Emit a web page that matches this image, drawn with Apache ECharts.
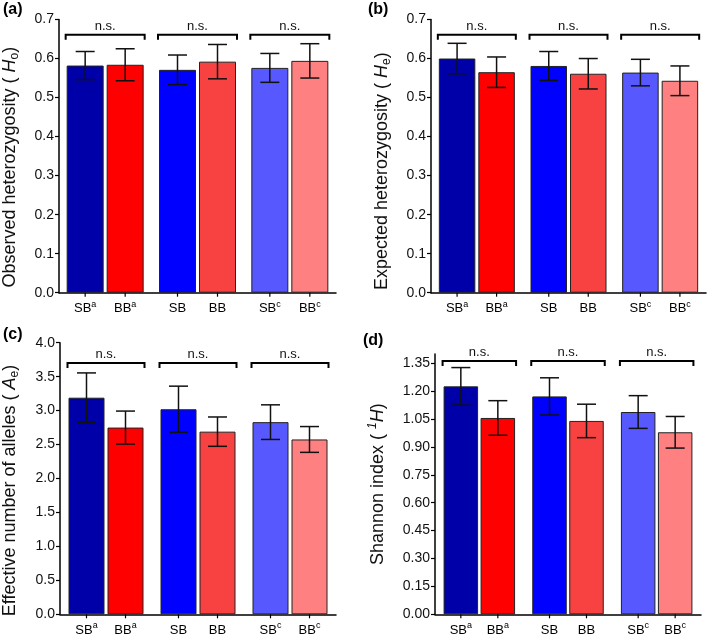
<!DOCTYPE html>
<html>
<head>
<meta charset="utf-8">
<script src="https://cdn.jsdelivr.net/npm/echarts@6/dist/echarts.min.js"></script>
<style>html,body{margin:0;padding:0;background:#fff;}#c{width:709px;height:640px;}</style>
</head>
<body>
<div id="c"></div>
<script>
// ---------- data ----------
const groups = ['g1', 'g2', 'g3'];
const sbLabels = [['SB', 'a'], ['SB', ''], ['SB', 'c']];
const bbLabels = [['BB', 'a'], ['BB', ''], ['BB', 'c']];
const sbColors = ['#0000a8', '#0000ff', '#5858ff'];
const bbColors = ['#ff0000', '#f84242', '#ff8080'];
const sigText = 'n.s.';

// (a) observed heterozygosity
const hoSB = [0.582, 0.571, 0.576];
const hoSBerr = [0.036, 0.038, 0.037];
const hoBB = [0.584, 0.592, 0.594];
const hoBBerr = [0.041, 0.044, 0.044];
const hoBracket = 0.661;
const hoTicks = [0, 0.1, 0.2, 0.3, 0.4, 0.5, 0.6, 0.7];

// (b) expected heterozygosity
const heSB = [0.600, 0.581, 0.564];
const heSBerr = [0.039, 0.037, 0.034];
const heBB = [0.565, 0.561, 0.543];
const heBBerr = [0.039, 0.039, 0.038];
const heBracket = 0.661;
const heTicks = [0, 0.1, 0.2, 0.3, 0.4, 0.5, 0.6, 0.7];

// (c) effective number of alleles
const aeSB = [3.19, 3.02, 2.83];
const aeSBerr = [0.365, 0.34, 0.255];
const aeBB = [2.75, 2.69, 2.575];
const aeBBerr = [0.243, 0.216, 0.19];
const aeBracket = 3.70;
const aeTicks = [0, 0.5, 1.0, 1.5, 2.0, 2.5, 3.0, 3.5, 4.0];

// (d) Shannon index
const shSB = [1.226, 1.172, 1.088];
const shSBerr = [0.101, 0.100, 0.088];
const shBB = [1.056, 1.040, 0.979];
const shBBerr = [0.093, 0.090, 0.085];
const shBracket = 1.362;
const shTicks = [0, 0.15, 0.30, 0.45, 0.60, 0.75, 0.90, 1.05, 1.20, 1.35];

// ---------- layout ----------
const FONT = 'Liberation Sans, Arial, sans-serif';
const panels = [
  { tag: '(a)', tagPos: [3, 2], grid: { left: 57, top: 19.5, width: 279, height: 273.2 },
    max: 0.7, interval: 0.1, dec: 1, ticks: hoTicks, nameShift: 22,
    name: 'Observed heterozygosity ( {i|H}{sub|o})', nameGap: 38,
    sb: hoSB, sbErr: hoSBerr, bb: hoBB, bbErr: hoBBerr, level: hoBracket, barW: 37, gap: 3 },
  { tag: '(b)', tagPos: [368, 2], grid: { left: 431, top: 19.5, width: 275, height: 273.2 },
    max: 0.7, interval: 0.1, dec: 1, ticks: heTicks, nameShift: 30,
    name: 'Expected heterozygosity ( {i|H}{sub|e})', nameGap: 38,
    sb: heSB, sbErr: heSBerr, bb: heBB, bbErr: heBBerr, level: heBracket, barW: 36.5, gap: 3 },
  { tag: '(c)', tagPos: [3, 327], grid: { left: 58, top: 342.7, width: 278, height: 271.6 },
    max: 4, interval: 0.5, dec: 1, ticks: aeTicks, nameShift: 24,
    name: 'Effective number of alleles ( {i|A}{sub|e})', nameGap: 39,
    sb: aeSB, sbErr: aeSBerr, bb: aeBB, bbErr: aeBBerr, level: aeBracket, barW: 36, gap: 3 },
  { tag: '(d)', tagPos: [363, 333], grid: { left: 435, top: 354, width: 266, height: 260.3 },
    max: 1.4, interval: 0.15, dec: 2, ticks: shTicks, nameShift: 0,
    name: 'Shannon index ( {sup|1}{i|H})', nameGap: 46,
    sb: shSB, sbErr: shSBerr, bb: shBB, bbErr: shBBerr, level: shBracket, barW: 34.5, gap: 2.5 }
];

const labelRich = {
  n: { fontSize: 13, fontFamily: FONT, color: '#111', lineHeight: 18 },
  s: { fontSize: 9, fontFamily: FONT, color: '#111', lineHeight: 10, verticalAlign: 'top' }
};

function errRenderer(offset, labels) {
  return function (params, api) {
    const i = api.value(0), m = api.value(1), e = api.value(2);
    const c = api.coord([i, m]);
    const x = c[0] + offset;
    const yt = api.coord([i, m + e])[1];
    const yb = api.coord([i, m - e])[1];
    const y0 = api.coord([i, 0])[1];
    const cap = 9.5;
    const ls = { stroke: '#111', lineWidth: 1.5 };
    const lab = labels[i];
    const txt = '{n|' + lab[0] + '}' + (lab[1] ? '{s|' + lab[1] + '}' : '');
    return {
      type: 'group',
      children: [
        { type: 'line', shape: { x1: x, y1: yt, x2: x, y2: yb }, style: ls },
        { type: 'line', shape: { x1: x - cap, y1: yt, x2: x + cap, y2: yt }, style: ls },
        { type: 'line', shape: { x1: x - cap, y1: yb, x2: x + cap, y2: yb }, style: ls },
        { type: 'line', shape: { x1: x, y1: y0, x2: x, y2: y0 + 4 }, style: { stroke: '#000', lineWidth: 1.2 } },
        { type: 'text', x: x, y: y0 + 16, style: { text: txt, rich: labelRich, align: 'center', verticalAlign: 'middle' } }
      ]
    };
  };
}

function bracketRenderer(half) {
  return function (params, api) {
    const i = api.value(0), lv = api.value(1);
    const c = api.coord([i, lv]);
    const x1 = c[0] - half, x2 = c[0] + half, y = c[1];
    return {
      type: 'group',
      children: [
        { type: 'polyline', shape: { points: [[x1, y + 5], [x1, y], [x2, y], [x2, y + 5]] },
          style: { stroke: '#000', lineWidth: 2, fill: null } },
        { type: 'text', x: c[0], y: y - 2,
          style: { text: sigText, fontSize: 13, fontFamily: FONT, fill: '#111', align: 'center', verticalAlign: 'bottom' } }
      ]
    };
  };
}

const option = {
  backgroundColor: '#fff',
  animation: false,
  textStyle: { fontFamily: FONT },
  title: [], grid: [], xAxis: [], yAxis: [], series: []
};

panels.forEach((p, k) => {
  option.title.push({ text: p.tag, left: p.tagPos[0], top: p.tagPos[1], padding: 0,
    textStyle: { fontSize: 16, fontWeight: 'bold', color: '#000', fontFamily: FONT } });
  option.grid.push(Object.assign({ containLabel: false }, p.grid));
  option.xAxis.push({
    type: 'category', gridIndex: k, data: groups,
    axisLine: { lineStyle: { color: '#000', width: 1.5 } },
    axisTick: { show: false }, axisLabel: { show: false }
  });
  option.yAxis.push({
    type: 'value', gridIndex: k, min: 0, max: p.max, interval: p.interval,
    name: p.name, nameLocation: 'middle', nameGap: p.nameGap, nameRotate: 90,
    nameTextStyle: {
      fontSize: 18, color: '#111', fontFamily: FONT, padding: [0, p.nameShift, 0, 0],
      rich: {
        i: { fontSize: 18, fontStyle: 'italic', color: '#111', fontFamily: FONT, lineHeight: 22 },
        sub: { fontSize: 12, color: '#111', fontFamily: FONT, lineHeight: 11, verticalAlign: 'bottom' },
        sup: { fontSize: 12, fontStyle: 'italic', color: '#111', fontFamily: FONT, lineHeight: 11, verticalAlign: 'top' }
      }
    },
    axisLine: { show: true, lineStyle: { color: '#000', width: 1.5 } },
    axisTick: { show: true, length: 4, lineStyle: { color: '#000', width: 1.2 } },
    splitLine: { show: false },
    axisLabel: { fontSize: 14, color: '#111', margin: 5, fontFamily: FONT, showMaxLabel: p.max === p.ticks[p.ticks.length - 1],
      formatter: v => v.toFixed(p.dec) }
  });
  const gapPct = (p.gap / p.barW * 100) + '%';
  const off = (p.barW + p.gap) / 2;
  option.series.push({
    type: 'bar', xAxisIndex: k, yAxisIndex: k, barWidth: p.barW, barGap: gapPct,
    data: p.sb.map((v, i) => ({ value: v, itemStyle: { color: sbColors[i] } })),
    itemStyle: { borderColor: '#222', borderWidth: 1 }
  });
  option.series.push({
    type: 'bar', xAxisIndex: k, yAxisIndex: k, barWidth: p.barW, barGap: gapPct,
    data: p.bb.map((v, i) => ({ value: v, itemStyle: { color: bbColors[i] } })),
    itemStyle: { borderColor: '#222', borderWidth: 1 }
  });
  option.series.push({
    type: 'custom', xAxisIndex: k, yAxisIndex: k, clip: false, z: 5,
    renderItem: errRenderer(-off, sbLabels),
    data: p.sb.map((v, i) => [i, v, p.sbErr[i]])
  });
  option.series.push({
    type: 'custom', xAxisIndex: k, yAxisIndex: k, clip: false, z: 5,
    renderItem: errRenderer(off, bbLabels),
    data: p.bb.map((v, i) => [i, v, p.bbErr[i]])
  });
  option.series.push({
    type: 'custom', xAxisIndex: k, yAxisIndex: k, clip: false, z: 5,
    renderItem: bracketRenderer(p.barW + p.gap / 2 + 1),
    data: groups.map((g, i) => [i, p.level])
  });
});

const chart = echarts.init(document.getElementById('c'), null, { renderer: 'canvas' });
chart.setOption(option);
</script>
</body>
</html>
